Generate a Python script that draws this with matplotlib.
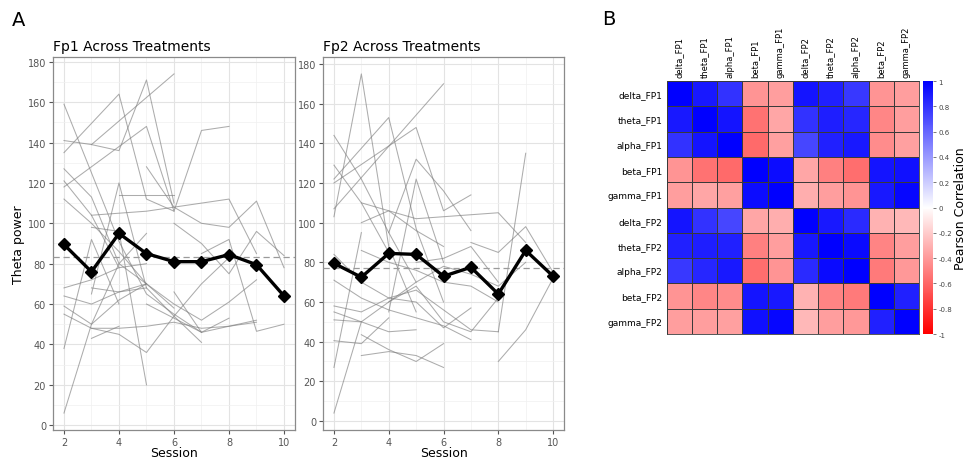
import numpy as np
import matplotlib
matplotlib.use("Agg")
import matplotlib.pyplot as plt
from matplotlib.colors import LinearSegmentedColormap
from matplotlib.ticker import MultipleLocator

# ---------------------------
# data: panel A (per-subject theta power, sessions may be missing)
# ---------------------------
fp1_sessions = [
    [2, 4, 5, 6], [3, 6], [2, 3, 4, 5, 6], [2, 5, 6, 7, 8], [2, 4, 5, 6, 7],
    [3, 4, 5], [4, 6], [2, 3, 4, 5], [2, 3, 4], [2, 3, 4, 5],
    [3, 4, 5, 6, 8, 9], [5, 6, 7, 8, 9, 10], [2, 3, 4, 5], [2, 3, 4],
    [2, 3, 4, 5, 6, 7, 8], [2, 3, 4, 5, 6], [2, 3, 4, 5, 6, 7],
    [3, 4, 5, 6, 7, 8, 9], [3, 4], [2, 3, 4, 5], [3, 4, 5, 6, 7, 8, 9],
    [7, 8, 9, 10], [5, 6, 7, 8], [6, 7, 8, 9], [3, 4, 5], [6, 7, 8, 9, 10],
]
fp1_values = [
    [135, 164, 112, 106], [139, 174], [141, 139, 136, 171, 110], [118, 148, 106, 146, 148],
    [159, 91, 65, 55, 46],
    [65, 120, 68], [114, 114], [127, 113, 80, 70], [121, 104, 78], [112, 100, 86, 70],
    [104, 105, 106, 108, 112, 85], [128, 108, 100, 98, 111, 78], [6, 50, 80, 95], [38, 92, 60],
    [55, 48, 45, 36, 54, 70, 83], [59, 50, 62, 70, 58], [64, 60, 66, 68, 54, 41],
    [48, 48, 49, 51, 48, 49, 51], [43, 49], [68, 72, 78, 80], [68, 66, 70, 60, 52, 61, 72],
    [85, 92, 46.5, 50], [60, 53, 46, 53], [66, 46, 49, 52], [98, 96, 20], [100, 90, 75, 96, 84],
]
fp1_mean = [89.5, 76, 95, 85, 81, 81, 84.5, 79.5, 64]
fp1_overall = 83.5

fp2_sessions = [
    [2, 3, 4, 5], [2, 6], [2, 4, 5, 6], [2, 5, 6, 7], [2, 3, 4, 5], [2, 3, 4],
    [4, 5, 6, 7], [4, 5, 6], [3, 4, 5, 6, 7, 8, 9], [3, 4, 5, 6], [8, 9],
    [8, 9, 10], [7, 8, 9, 10], [2, 3], [2, 3], [2, 3, 4], [3, 4, 5, 6], [3, 4, 5, 6],
    [2, 3, 4, 5, 6, 7, 8], [2, 3, 4, 5, 6, 7], [2, 3, 4, 5, 6, 7, 8],
    [3, 4, 5, 6, 7, 8], [4, 5, 6, 7, 8, 9], [2, 3, 4, 5, 6, 7], [5, 6, 7, 8], [2, 3, 4, 5],
]
fp2_values = [
    [103, 175, 88, 55], [107, 170], [122, 153, 97, 60], [120, 148, 106, 114], [144, 122, 95, 70],
    [129, 110, 85],
    [95, 132, 116, 96], [55, 122, 80], [110, 106, 102, 103, 104, 105, 90], [100, 106, 96, 88],
    [45, 135],
    [30, 46, 72], [90, 85, 98, 75], [4, 50], [27, 95], [40.5, 39, 52], [43.5, 36, 30, 39],
    [33, 35, 33, 27],
    [58, 55, 62, 66, 56, 46, 45], [71, 62, 56, 52, 48, 41], [55, 50, 60, 68, 50, 45, 62],
    [86, 80, 76, 70, 68, 60], [60, 70, 78, 74, 68, 80], [84, 70, 62, 60, 47, 57],
    [80, 82, 88, 70], [51, 50, 45, 46],
]
fp2_mean = [79.5, 72.5, 84.5, 84, 73, 77.5, 64, 86, 73]
fp2_overall = 77

mean_sessions = [2, 3, 4, 5, 6, 7, 8, 9, 10]

# ---------------------------
# data: panel B (correlation matrix)
# ---------------------------
band_labels = ["delta_FP1", "theta_FP1", "alpha_FP1", "beta_FP1", "gamma_FP1",
               "delta_FP2", "theta_FP2", "alpha_FP2", "beta_FP2", "gamma_FP2"]
corr = np.array([
    [1.00, 0.90, 0.80, -0.42, -0.38, 0.92, 0.87, 0.78, -0.42, -0.38],
    [0.90, 1.00, 0.92, -0.55, -0.35, 0.80, 0.88, 0.85, -0.47, -0.38],
    [0.80, 0.92, 1.00, -0.58, -0.37, 0.72, 0.87, 0.90, -0.45, -0.37],
    [-0.42, -0.55, -0.58, 1.00, 0.95, -0.35, -0.50, -0.57, 0.92, 0.93],
    [-0.38, -0.35, -0.37, 0.95, 1.00, -0.32, -0.38, -0.42, 0.90, 0.97],
    [0.92, 0.80, 0.72, -0.35, -0.32, 1.00, 0.90, 0.83, -0.30, -0.28],
    [0.87, 0.88, 0.87, -0.50, -0.38, 0.90, 1.00, 0.96, -0.48, -0.38],
    [0.78, 0.85, 0.90, -0.57, -0.42, 0.83, 0.96, 1.00, -0.52, -0.40],
    [-0.42, -0.47, -0.45, 0.92, 0.90, -0.30, -0.48, -0.52, 1.00, 0.87],
    [-0.38, -0.38, -0.37, 0.93, 0.97, -0.28, -0.38, -0.40, 0.87, 1.00],
])
cbar_ticks = [1, 0.8, 0.6, 0.4, 0.2, 0, -0.2, -0.4, -0.6, -0.8, -1]
cbar_ticklabels = ["1", "0.8", "0.6", "0.4", "0.2", "0", "-0.2", "-0.4", "-0.6", "-0.8", "-1"]


def draw_spaghetti(ax, sessions, values, mean_vals, overall, title, ylabel=None):
    for s, v in zip(sessions, values):
        ax.plot(s, v, color="#808080", alpha=0.65, lw=0.75, zorder=2)
    ax.axhline(overall, color="#9a9a9a", ls=(0, (5, 3)), lw=0.9, zorder=3)
    ax.plot(mean_sessions, mean_vals, color="black", lw=2.4, marker="D",
            ms=6.5, zorder=4)

    allv = np.concatenate([np.asarray(v, float) for v in values] + [np.asarray(mean_vals, float)])
    lo, hi = allv.min(), allv.max()
    pad = 0.05 * (hi - lo)
    ax.set_ylim(lo - pad, hi + pad)
    ax.set_xlim(1.6, 10.4)

    ax.xaxis.set_major_locator(MultipleLocator(2))
    ax.xaxis.set_minor_locator(MultipleLocator(1))
    ax.yaxis.set_major_locator(MultipleLocator(20))
    ax.yaxis.set_minor_locator(MultipleLocator(10))
    ax.grid(which="major", color="#e3e3e3", lw=0.8, zorder=0)
    ax.grid(which="minor", color="#f0f0f0", lw=0.5, zorder=0)
    ax.set_axisbelow(True)
    for sp in ax.spines.values():
        sp.set_color("#8a8a8a")
        sp.set_linewidth(0.9)
    ax.tick_params(which="major", labelsize=7, colors="#555555", length=3,
                   width=0.8, pad=2)
    ax.tick_params(which="minor", length=0)
    ax.set_title(title, loc="left", fontsize=10, pad=5)
    ax.set_xlabel("Session", fontsize=9, labelpad=-1)
    if ylabel:
        ax.set_ylabel(ylabel, fontsize=9, labelpad=2)


fig = plt.figure(figsize=(9.72, 4.6), dpi=100)

ax1 = fig.add_axes([0.0545, 0.063, 0.249, 0.811])
ax2 = fig.add_axes([0.3323, 0.063, 0.248, 0.811])
draw_spaghetti(ax1, fp1_sessions, fp1_values, fp1_mean, fp1_overall,
               "Fp1 Across Treatments", ylabel="Theta power")
draw_spaghetti(ax2, fp2_sessions, fp2_values, fp2_mean, fp2_overall,
               "Fp2 Across Treatments")

# ---------------------------
# heatmap
# ---------------------------
cmap = LinearSegmentedColormap.from_list("rwb", ["#ff0000", "#ffffff", "#0000ff"])
ax3 = fig.add_axes([0.686, 0.2717, 0.2595, 0.55])
n = len(band_labels)
im = ax3.pcolormesh(np.arange(n + 1), np.arange(n + 1), corr, cmap=cmap,
                    vmin=-1, vmax=1, edgecolors="#3a3a3a", linewidth=0.6)
ax3.set_xlim(0, n)
ax3.set_ylim(n, 0)
ax3.set_xticks(np.arange(n) + 0.5)
ax3.set_yticks(np.arange(n) + 0.5)
ax3.set_xticklabels(band_labels, rotation=90, fontsize=6)
ax3.set_yticklabels(band_labels, fontsize=6.5)
ax3.xaxis.tick_top()
ax3.tick_params(length=0, pad=3)
for sp in ax3.spines.values():
    sp.set_color("#3a3a3a")
    sp.set_linewidth(0.6)

cax = fig.add_axes([0.9496, 0.2717, 0.0103, 0.55])
cb = fig.colorbar(im, cax=cax, ticks=cbar_ticks)
cb.ax.set_yticklabels(cbar_ticklabels)
cb.outline.set_visible(False)
cb.ax.tick_params(labelsize=5, length=2, width=0.5, colors="#444444", pad=2)
cb.set_label("Pearson Correlation", fontsize=9, labelpad=1)

fig.text(0.012, 0.955, "A", fontsize=14, va="center")
fig.text(0.619, 0.958, "B", fontsize=14, va="center")

fig.savefig("out.png", dpi=100)
